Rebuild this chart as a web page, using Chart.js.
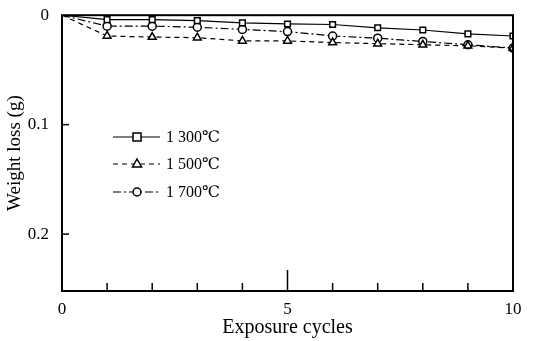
<!DOCTYPE html>
<html>
<head>
<meta charset="utf-8">
<script src="https://cdn.jsdelivr.net/npm/chart.js@4"></script>
<style>
  html, body { margin: 0; padding: 0; background: #fff; }
  #wrap { width: 539px; height: 341px; }
</style>
</head>
<body>
<div id="wrap"><canvas id="lossChart"></canvas></div>
<script>
// data
const cycles = [0, 1, 2, 3, 4, 5, 6, 7, 8, 9, 10];
const loss1300 = [0, 0.004, 0.004, 0.005, 0.007, 0.008, 0.0085, 0.0115, 0.0135, 0.017, 0.019];
const loss1500 = [0, 0.019, 0.020, 0.0205, 0.0235, 0.0235, 0.025, 0.026, 0.027, 0.028, 0.030];
const loss1700 = [0, 0.010, 0.010, 0.011, 0.013, 0.015, 0.019, 0.021, 0.024, 0.027, 0.030];
const seriesLabels = ['1 300\u2103', '1 500\u2103', '1 700\u2103'];
const yTicks = [0, 0.1, 0.2];
const xLabelled = [0, 5, 10];

const FONT = 'Liberation Serif, "DejaVu Serif", serif';

function pts(vals) {
  return cycles.map((c, i) => ({ x: c, y: vals[i] }));
}

const styles = [
  { dash: [], marker: 'rect', r: 4 },
  { dash: [5, 4], marker: 'triangle', r: 4.5 },
  { dash: [8, 3, 2, 3], marker: 'circle', r: 4 }
];
const allData = [loss1300, loss1500, loss1700];

// box, inward ticks and the legend inside the plot
const framePlugin = {
  id: 'frame',
  afterDraw(chart) {
    const { ctx, chartArea: a, scales } = chart;
    ctx.save();
    ctx.strokeStyle = '#000';
    ctx.lineWidth = 2;
    ctx.strokeRect(a.left, a.top, a.right - a.left, a.bottom - a.top);

    ctx.lineWidth = 1.5;
    cycles.forEach(c => {
      if (c === 0 || c === 10) return;
      const x = scales.x.getPixelForValue(c);
      const len = c === 5 ? 21 : 8;
      ctx.beginPath();
      ctx.moveTo(x, a.bottom);
      ctx.lineTo(x, a.bottom - len);
      ctx.stroke();
    });
    yTicks.forEach(v => {
      if (v === 0) return;
      const y = scales.y.getPixelForValue(v);
      ctx.beginPath();
      ctx.moveTo(a.left, y);
      ctx.lineTo(a.left + 7, y);
      ctx.stroke();
    });

    // legend
    const ys = [137, 164, 192];
    seriesLabels.forEach((lab, i) => {
      const st = styles[i];
      const y = ys[i];
      ctx.setLineDash(st.dash);
      ctx.lineWidth = 1.2;
      ctx.beginPath();
      ctx.moveTo(113, y);
      ctx.lineTo(160, y);
      ctx.stroke();
      ctx.setLineDash([]);
      ctx.fillStyle = '#fff';
      ctx.lineWidth = 1.5;
      const cx = 137;
      ctx.beginPath();
      if (st.marker === 'rect') {
        ctx.rect(cx - 4, y - 4, 8, 8);
      } else if (st.marker === 'triangle') {
        ctx.moveTo(cx, y - 5);
        ctx.lineTo(cx + 4.5, y + 3);
        ctx.lineTo(cx - 4.5, y + 3);
        ctx.closePath();
      } else {
        ctx.arc(cx, y, 4, 0, Math.PI * 2);
      }
      ctx.fill();
      ctx.stroke();
      ctx.fillStyle = '#000';
      ctx.font = '16px ' + FONT;
      ctx.textBaseline = 'middle';
      ctx.fillText(lab, 166, y + 1);
    });
    ctx.restore();
  }
};

new Chart(document.getElementById('lossChart'), {
  type: 'line',
  data: {
    datasets: seriesLabels.map((lab, i) => ({
      label: lab,
      data: pts(allData[i]),
      borderColor: '#000',
      borderWidth: 1.2,
      borderDash: styles[i].dash,
      pointStyle: allData[i].map((v, k) => k === 0 ? false : styles[i].marker),
      pointRadius: styles[i].r,
      pointBackgroundColor: '#fff',
      pointBorderColor: '#000',
      pointBorderWidth: 1.5,
      tension: 0
    }))
  },
  options: {
    responsive: true,
    maintainAspectRatio: false,
    animation: false,
    layout: { padding: { left: 0, right: 26, top: 14, bottom: 0 } },
    plugins: {
      legend: { display: false },
      tooltip: { enabled: false }
    },
    scales: {
      x: {
        type: 'linear',
        min: 0,
        max: 10,
        grid: { display: false },
        border: { display: false },
        afterBuildTicks(s) { s.ticks = xLabelled.map(v => ({ value: v })); },
        afterFit(s) { s.height = 50; },
        ticks: {
          color: '#000',
          padding: 0,
          maxRotation: 0,
          font: { family: FONT, size: 17 },
          callback: v => String(v)
        },
        title: {
          display: true,
          text: 'Exposure cycles',
          color: '#000',
          padding: { top: 0, bottom: 1 },
          font: { family: FONT, size: 20 }
        }
      },
      y: {
        type: 'linear',
        reverse: true,
        min: 0,
        max: 0.252,
        grid: { display: false },
        border: { display: false },
        afterBuildTicks(s) { s.ticks = yTicks.map(v => ({ value: v })); },
        afterFit(s) { s.width = 62; },
        ticks: {
          color: '#000',
          padding: 5,
          font: { family: FONT, size: 17 },
          callback: v => v === 0 ? '0' : v.toFixed(1)
        },
        title: {
          display: true,
          text: 'Weight loss (g)',
          color: '#000',
          padding: { top: 4, bottom: 2 },
          font: { family: FONT, size: 19 }
        }
      }
    }
  },
  plugins: [framePlugin]
});
</script>
</body>
</html>
